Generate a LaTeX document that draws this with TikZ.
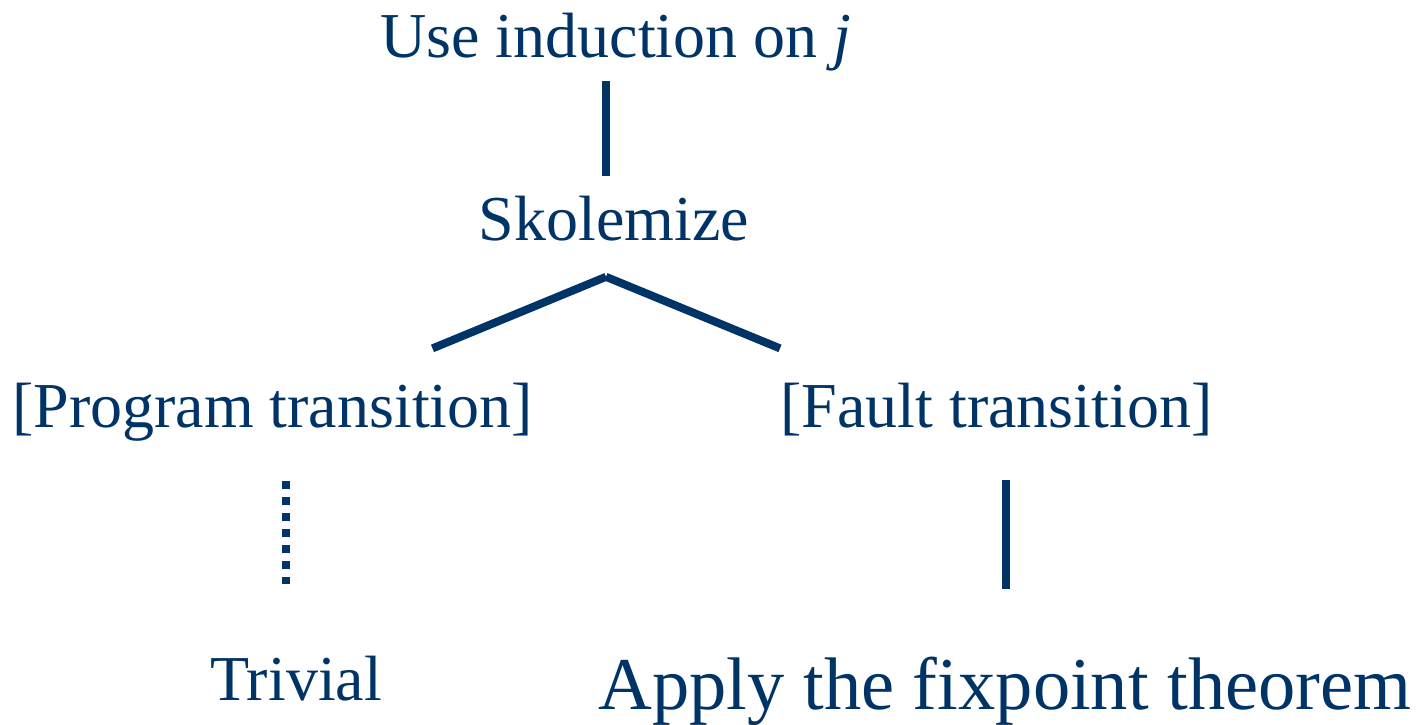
\documentclass[tikz,border=0pt]{standalone}
\usepackage{fontspec}
\setmainfont{Liberation Serif}
\usepackage{tikz}
\definecolor{ProofNavy}{HTML}{003366}

\begin{document}
\begin{tikzpicture}[
 x=1pt,y=-1pt,
 tactic/.style={text=ProofNavy,inner sep=0pt,anchor=base,
   font=\fontsize{64}{70}\selectfont},
 bigtactic/.style={tactic,font=\fontsize{74.5}{80}\selectfont},
 branch/.style={draw=ProofNavy,line width=8pt},
 elided/.style={branch,dash pattern=on 8pt off 8pt}
]
 \useasboundingbox (0,0) rectangle (1426,725);
 \node[tactic] (induct) at (616,57) {Use induction on \textit{j}};
 \node[tactic] (skol) at (614,240) {Skolemize};
 \node[tactic] (prog) at (272.5,427) {[Program transition]};
 \node[tactic] (fault) at (996.5,427) {[Fault transition]};
 \node[tactic] (triv) at (296,700) {Trivial};
 \node[bigtactic] (apply) at (1005,709) {Apply the fixpoint theorem};
 \draw[branch] ([shift={(-10,10)}]induct.south) -- ([shift={(-8,-19)}]skol.north);
 \draw[branch] ([shift={(-8,36)}]skol.south) -- ([shift={(160,-34)}]prog.north);
 \draw[branch] ([shift={(-8,36)}]skol.south) -- ([shift={(-216.5,-34)}]fault.north);
 \draw[elided] ([shift={(13.5,40)}]prog.south) -- ([shift={(-10,-71)}]triv.north);
 \draw[branch] ([shift={(9.5,44)}]fault.south) -- ([shift={(1,-67)}]apply.north);
\end{tikzpicture}
\end{document}
